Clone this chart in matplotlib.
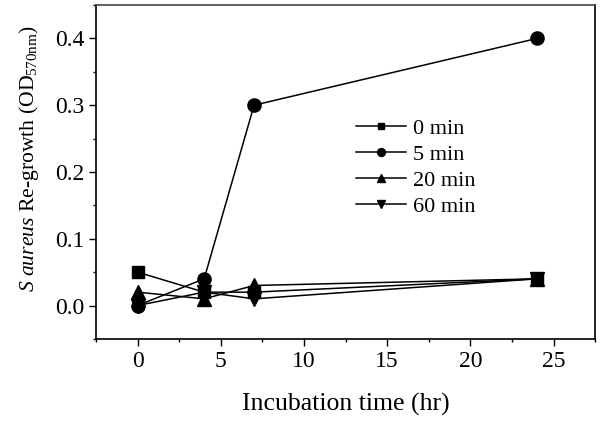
import matplotlib
matplotlib.use('Agg')
import matplotlib.pyplot as plt
from matplotlib.ticker import MultipleLocator

# incubation time (hr)
hours = [0, 4, 7, 24]

# re-growth OD570 for each exposure time
od_0min = [0.05, 0.02, 0.02, 0.04]
od_5min = [0.0, 0.04, 0.30, 0.40]
od_20min = [0.02, 0.01, 0.03, 0.04]
od_60min = [0.0, 0.02, 0.01, 0.04]

labels = ['0 min', '5 min', '20 min', '60 min']
markers = ['s', 'o', '^', 'v']
msizes = [8, 9.5, 10, 10]

plt.rcParams['font.family'] = ['Liberation Serif', 'DejaVu Serif']
plt.rcParams['mathtext.fontset'] = 'custom'
plt.rcParams['mathtext.rm'] = 'Liberation Serif'
plt.rcParams['mathtext.it'] = 'Liberation Serif:italic'

fig = plt.figure(figsize=(6, 4.21), dpi=100)
ax = fig.add_axes([0.16, 0.195, 0.832, 0.793])

series = [od_0min, od_5min, od_20min, od_60min]
for vals, lab, mk, ms in zip(series, labels, markers, msizes):
    ax.plot(hours, vals, color='black', lw=1.1, marker=mk, markersize=ms, label=lab)

ax.set_xlim(-2.5, 27.5)
ax.set_ylim(-0.05, 0.45)
ax.xaxis.set_major_locator(MultipleLocator(5))
ax.xaxis.set_minor_locator(MultipleLocator(2.5))
ax.yaxis.set_major_locator(MultipleLocator(0.1))
ax.yaxis.set_minor_locator(MultipleLocator(0.05))
ax.yaxis.set_major_formatter(plt.FuncFormatter(lambda v, p: f'{v:.1f}'))

ax.tick_params(which='both', direction='out', top=False, right=False, labelsize=17, width=1)
ax.tick_params(which='major', length=5)
ax.tick_params(which='minor', length=2.5)
for sp in ax.spines.values():
    sp.set_linewidth(1.2)
ax.spines['top'].set_color('#444444')

ax.set_xlabel('Incubation time (hr)', fontsize=18.5, labelpad=15)
ax.set_ylabel(r'$\mathit{S\ aureus}$ Re-growth (OD$_{570\mathrm{nm}}$)', fontsize=15.6)
ax.yaxis.set_label_coords(-0.11, 0.54)

leg = ax.legend(loc='upper left', bbox_to_anchor=(0.49, 0.708), frameon=False,
                fontsize=16, handlelength=2.25, handletextpad=0.3, labelspacing=0.25,
                markerscale=0.6, borderpad=0.2)

fig.savefig('out.png', dpi=100)
